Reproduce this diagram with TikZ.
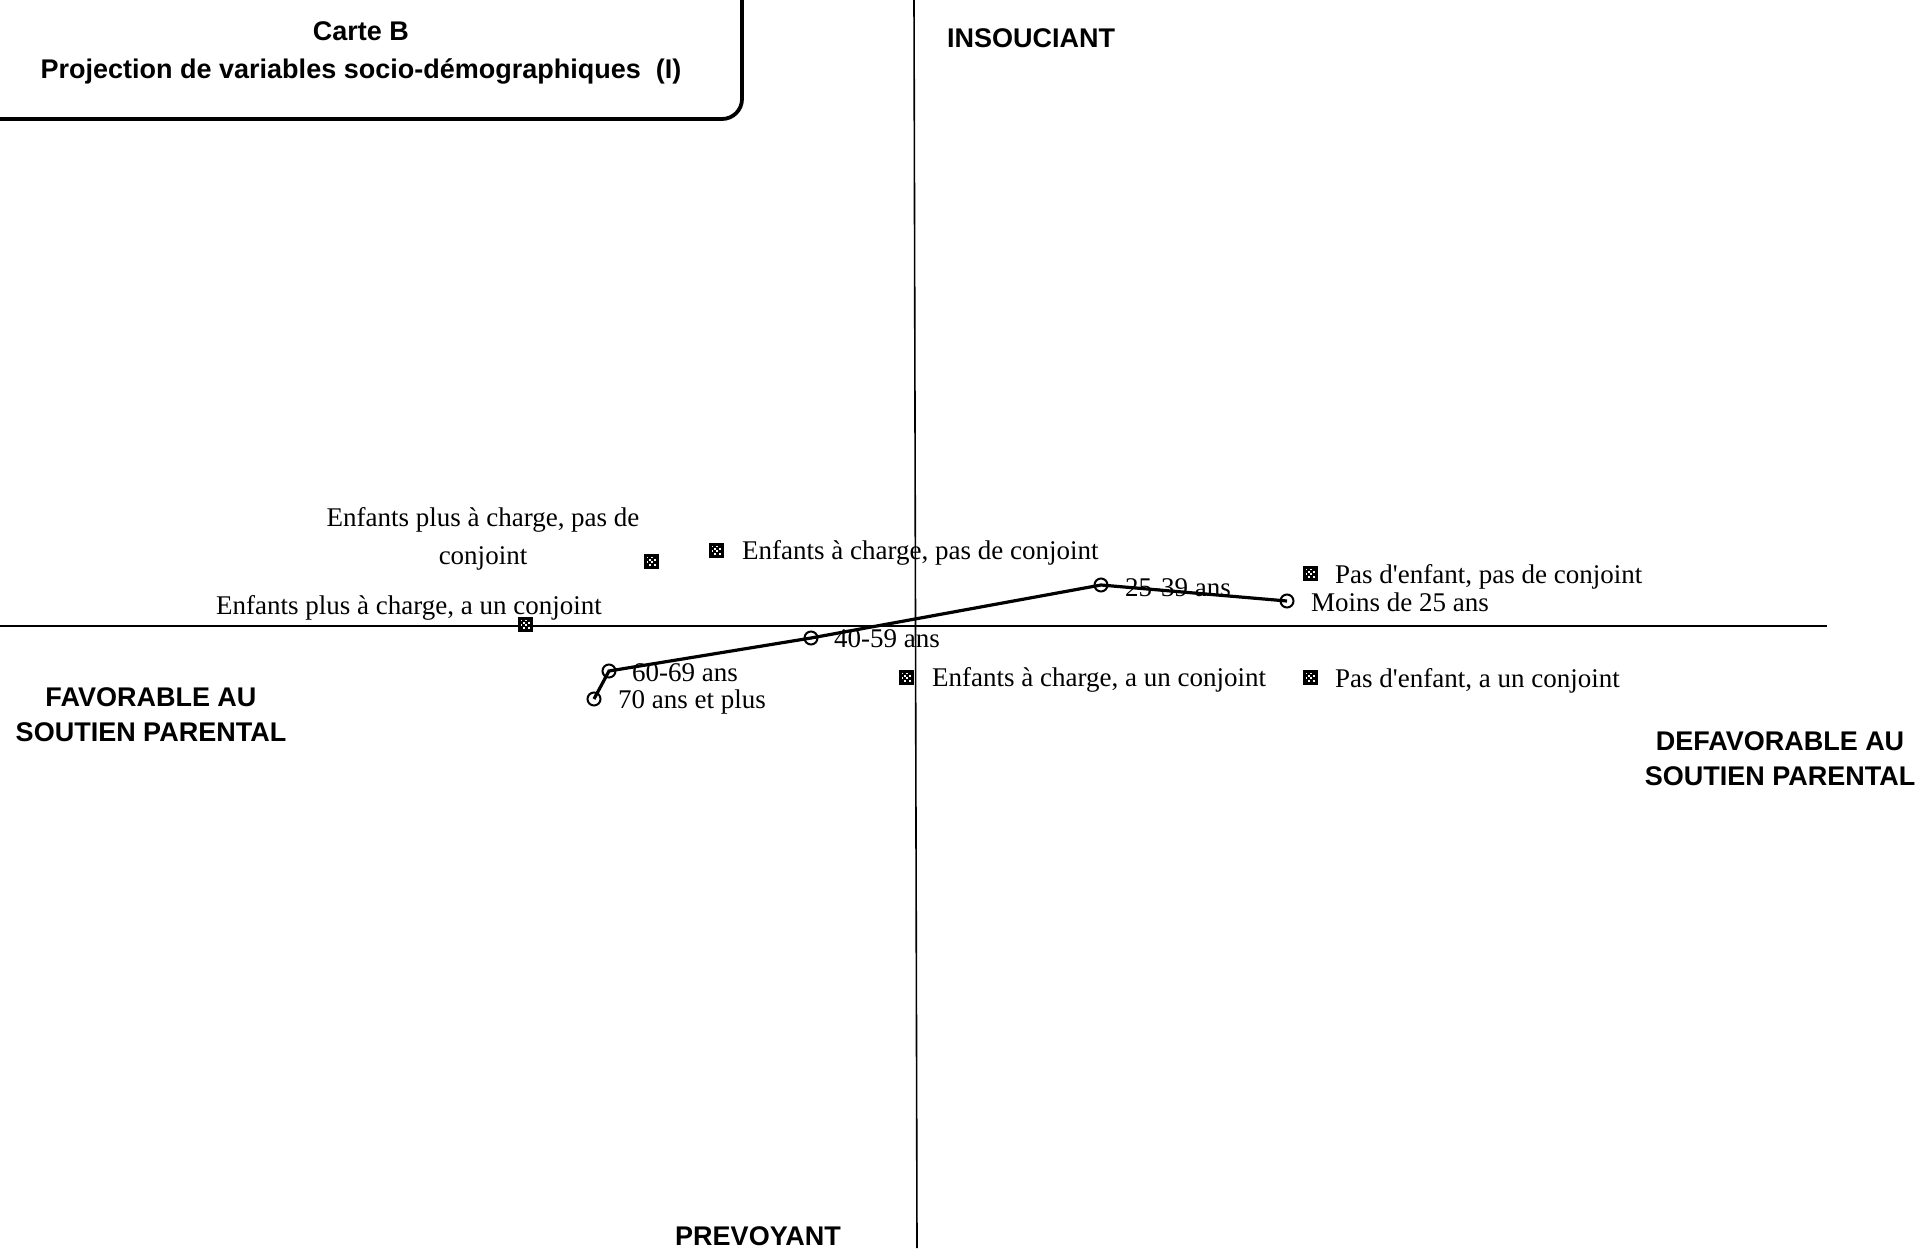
\documentclass[tikz,border=0pt]{standalone}
\usepackage{fontspec}
\setmainfont{Liberation Serif}
\newfontfamily\headfont{Liberation Sans}
\usetikzlibrary{calc}
\begin{document}
\begin{tikzpicture}[x=1pt,y=-1pt,
  lbl/.style={font=\fontsize{27}{38}\selectfont, inner sep=0pt, anchor=base west},
  lblc/.style={font=\fontsize{27}{38}\selectfont, inner sep=0pt, anchor=base},
  head/.style={font=\headfont\bfseries\fontsize{27}{35}\selectfont, inner sep=0pt, anchor=base},
  axis/.style={line width=1.6pt},
  ageline/.style={line width=3.2pt},
  agept/.style={circle, draw, line width=2pt, minimum size=13pt, inner sep=0pt},
  sqmark/.style={rectangle, fill=black, minimum size=15pt, inner sep=0pt,
    path picture={
      \foreach \i in {0,1,2,3}{\foreach \j in {0,1,2,3}{
        \pgfmathtruncatemacro{\cellparity}{mod(\i+\j,2)}
        \ifnum\cellparity=0
          \fill[white] ($(path picture bounding box.center)+(-4.5+2.4*\i,-4.5+2.4*\j)$) rectangle +(1.8,1.8);
        \fi}}}},
  titlebox/.style={draw, line width=3.8pt, rounded corners=20pt, inner sep=0pt}]

\useasboundingbox (0,0) rectangle (1920,1248);
\clip (0,0) rectangle (1920,1248);

% title frame and heading
\node[titlebox, minimum width=790pt, minimum height=162pt] (tbox) at (347,38) {};
\node[head] (t1) at (361,40) {Carte B};
\node[head] (t2) at (361,78) {Projection de variables socio-démographiques~~(I)};

% axes
\coordinate (vt) at (914,0);
\coordinate (vb) at (917,1248);
\coordinate (hl) at (0,626);
\coordinate (hr) at (1827,626);
\draw[axis] (vt) -- (vb);
\draw[axis] (hl) -- (hr);

% axis poles
\node[head] (ins) at (1031,47) {INSOUCIANT};
\node[head] (fav1) at (151,706) {FAVORABLE AU};
\node[head] (fav2) at (151,741) {SOUTIEN PARENTAL};
\node[head] (def1) at (1780,750) {DEFAVORABLE AU};
\node[head] (def2) at (1780,785) {SOUTIEN PARENTAL};
\node[head] (prev) at (758,1245) {PREVOYANT};

% household categories
\node[sqmark] (m1) at (716,550) {};
\node[lbl] (l1) at (742,559) {Enfants à charge, pas de conjoint};
\node[sqmark] (m2) at (651,561) {};
\node[lblc] (l2a) at (483,526) {Enfants plus à charge, pas de};
\node[lblc] (l2b) at (483,564) {conjoint};
\node[sqmark] (m3) at (525,624) {};
\node[lbl] (l3) at (216,614) {Enfants plus à charge, a un conjoint};
\node[sqmark] (m4) at (906,677) {};
\node[lbl] (l4) at (932,686) {Enfants à charge, a un conjoint};
\node[sqmark] (m5) at (1310,573) {};
\node[lbl] (l5) at (1335,583) {Pas d\textquotesingle enfant, pas de conjoint};
\node[sqmark] (m6) at (1310,677) {};
\node[lbl] (l6) at (1335,687) {Pas d\textquotesingle enfant, a un conjoint};

% age classes
\node[lbl] (a1l) at (1311,611) {Moins de 25 ans};
\node[lbl] (a2l) at (1125,596) {25-39 ans};
\node[lbl] (a3l) at (834,647) {40-59 ans};
\node[lbl] (a4l) at (632,681) {60-69 ans};
\node[lbl] (a5l) at (618,708) {70 ans et plus};

\node[agept] (a1) at (1287,601) {};
\node[agept] (a2) at (1101,585) {};
\node[agept] (a3) at (811,638) {};
\node[agept] (a4) at (609,671) {};
\node[agept] (a5) at (594,699) {};
\draw[ageline] (a5.center) -- (a4.center) -- (a3.center) -- (a2.center) -- (a1.center);

\end{tikzpicture}
\end{document}
